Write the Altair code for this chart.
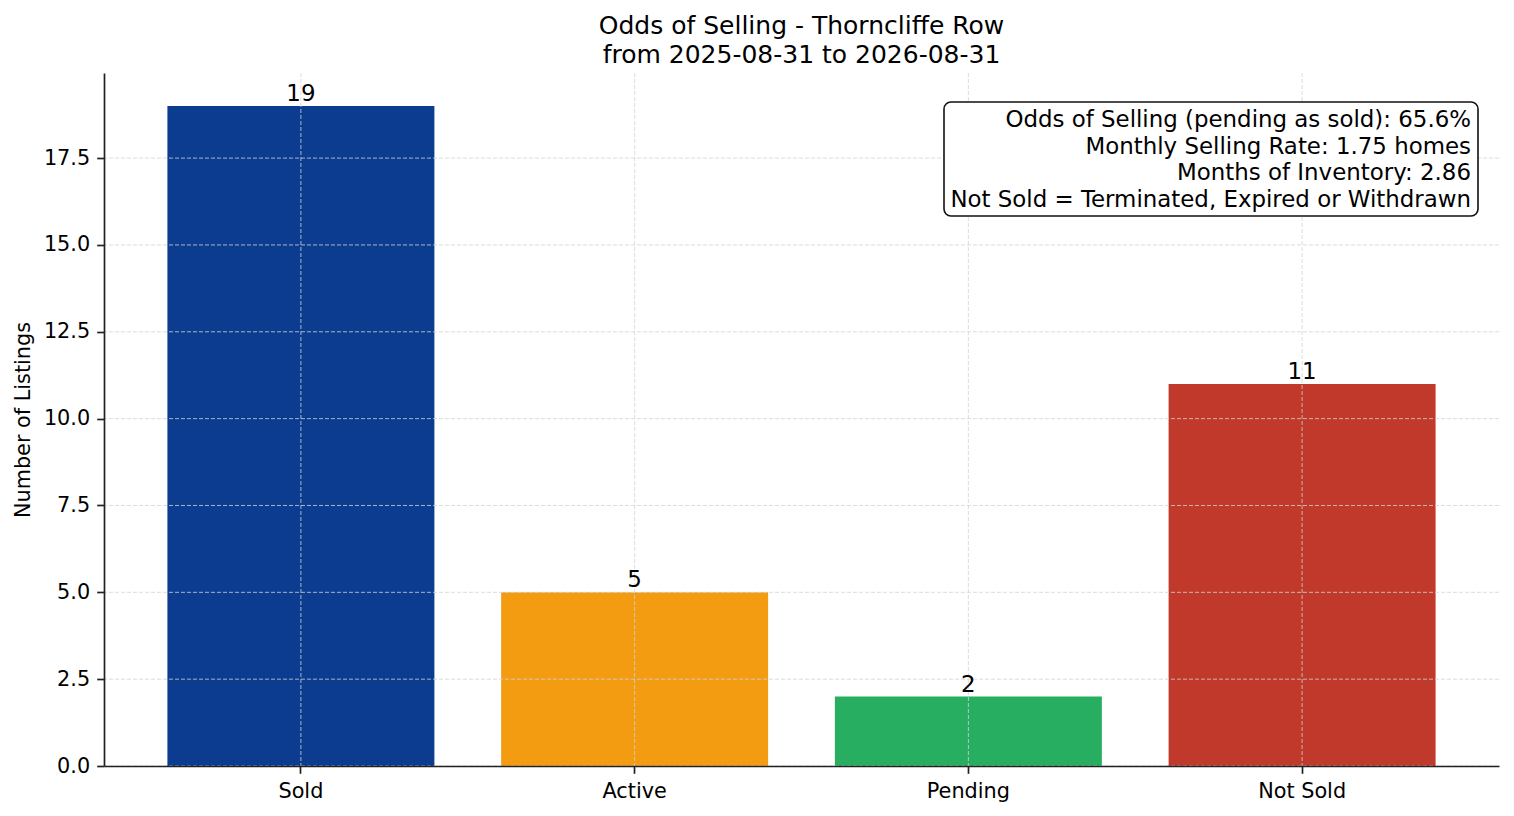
import altair as alt
import pandas as pd

statuses = ["Sold", "Active", "Pending", "Not Sold"]
counts = [19, 5, 2, 11]
bar_colors = ["#0b3c8f", "#f39c12", "#27ae60", "#c0392b"]
y_ticks = [0.0, 2.5, 5.0, 7.5, 10.0, 12.5, 15.0, 17.5]
info_lines = [
    "Odds of Selling (pending as sold): 65.6%",
    "Monthly Selling Rate: 1.75 homes",
    "Months of Inventory: 2.86",
    "Not Sold = Terminated, Expired or Withdrawn",
]
title_lines = ["Odds of Selling - Thorncliffe Row", "from 2025-08-31 to 2026-08-31"]

FONT = "DejaVu Sans"
GRID = dict(strokeDash=[4, 2], color="#d3d3d3", strokeWidth=0.8)

df = pd.DataFrame({"status": statuses, "count": counts})
grid_df = pd.DataFrame({"tick": y_ticks})
one = pd.DataFrame({"k": [0]})

x_scale = alt.Scale(domain=statuses, paddingInner=0.2, paddingOuter=0.19)
y_scale = alt.Scale(domain=[0, max(counts) * 1.05], nice=False, zero=True)
x_axis = alt.Axis(title=None, labelAngle=0, labelPadding=8, zindex=1)
y_axis = alt.Axis(values=y_ticks, format=".1f", title="Number of Listings",
                  labelPadding=7, titlePadding=10, zindex=1)

bars = alt.Chart(df).mark_bar().encode(
    x=alt.X("status:N", sort=statuses, scale=x_scale, axis=x_axis),
    y=alt.Y("count:Q", scale=y_scale, axis=y_axis),
    color=alt.Color("status:N", scale=alt.Scale(domain=statuses, range=bar_colors), legend=None),
)

vgrid = alt.Chart(df).mark_rule(**GRID).encode(
    x=alt.X("status:N", sort=statuses, scale=x_scale, axis=x_axis)
)
hgrid = alt.Chart(grid_df).mark_rule(**GRID).encode(
    y=alt.Y("tick:Q", scale=y_scale, axis=y_axis)
)

labels = alt.Chart(df).mark_text(baseline="bottom", fontSize=22.9, font=FONT, color="black").encode(
    x=alt.X("status:N", sort=statuses, scale=x_scale, axis=x_axis),
    y=alt.Y("count:Q", scale=y_scale, axis=y_axis),
    text="count:Q",
)

box = alt.Chart(one).mark_rect(fill="white", stroke="#111111", strokeWidth=1.6, cornerRadius=7).encode(
    x=alt.value(840), x2=alt.value(1374), y=alt.value(29), y2=alt.value(143)
)
box_text = alt.Chart(one).mark_text(align="right", baseline="top", fontSize=22.9, font=FONT,
                                    lineHeight=26.7, color="black").encode(
    x=alt.value(1367), y=alt.value(36), text=alt.value(info_lines)
)

chart = alt.layer(bars, vgrid, hgrid, labels, box, box_text).properties(
    width=1395,
    height=693,
    autosize=alt.AutoSizeParams(type="none"),
    padding={"left": 96, "top": 65, "right": 7, "bottom": 40},
    title=alt.TitleParams(title_lines, font=FONT, fontSize=25, fontWeight="normal", anchor="middle",
                          frame="group", offset=5, lineHeight=28.5, color="black"),
).configure_view(stroke=None).configure_axis(
    labelFont=FONT, titleFont=FONT, labelFontSize=20.8, titleFontSize=20.8, titleFontWeight="normal",
    labelColor="black", titleColor="black", domainColor="#222222", tickColor="#222222",
    domainWidth=1.7, tickWidth=1.7, tickSize=7.3, grid=False,
)

chart.save("out.html", embed_options={"renderer": "svg", "actions": False})
